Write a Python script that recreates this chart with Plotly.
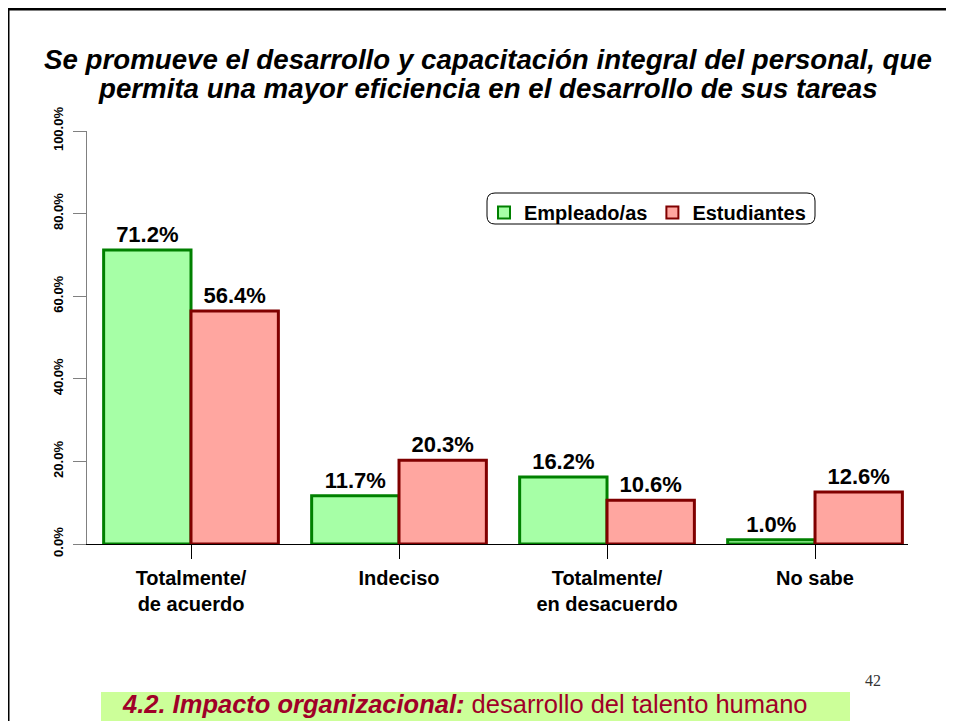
import plotly.graph_objects as go

categories = ["Totalmente/<br>de acuerdo", "Indeciso", "Totalmente/<br>en desacuerdo", "No sabe"]
empleados = [71.2, 11.7, 16.2, 1.0]
estudiantes = [56.4, 20.3, 10.6, 12.6]
series_names = ["Empleado/as", "Estudiantes"]
y_ticks = [0, 20, 40, 60, 80, 100]

OFF = 8                      # page body margin of the html page
W, H = 954 - OFF, 721 - OFF  # figure size so that it fits the window
L, R, T, B = 87, 908, 131, 544  # plot area in page pixels


def px(x):
    return (x - L) / (R - L)


def py(y):
    return (B - y) / (B - T)


FONT = "Liberation Sans, Arial, sans-serif"

fig = go.Figure()
fig.add_trace(go.Bar(
    name=series_names[0], x=categories, y=empleados,
    marker=dict(color="#A6FFA6", line=dict(color="#008000", width=3)),
    texttemplate="%{y:.1f}%", textposition="outside",
    textfont=dict(family=FONT, size=22, color="black", weight="bold"),
    cliponaxis=False,
))
fig.add_trace(go.Bar(
    name=series_names[1], x=categories, y=estudiantes,
    marker=dict(color="#FFA6A0", line=dict(color="#800000", width=3)),
    texttemplate="%{y:.1f}%", textposition="outside",
    textfont=dict(family=FONT, size=22, color="black", weight="bold"),
    cliponaxis=False,
))

fig.update_layout(
    width=W, height=H,
    margin=dict(l=L - OFF, r=W - (R - OFF), t=T - OFF, b=H - (B - OFF), pad=0),
    paper_bgcolor="white", plot_bgcolor="white",
    barmode="group", bargap=0.16, bargroupgap=0,
    font=dict(family=FONT, color="black"),
    showlegend=True,
    legend=dict(
        orientation="h", x=px(484), y=py(193), xanchor="left", yanchor="top",
        bgcolor="rgba(0,0,0,0)", borderwidth=0,
        font=dict(family=FONT, size=20, color="black", weight="bold"),
        itemsizing="constant", itemwidth=30, tracegroupgap=0,
    ),
    xaxis=dict(
        type="category", range=[-0.5, 3.447],
        showline=True, linecolor="black", linewidth=1,
        ticks="outside", ticklen=14, tickcolor="black", tickwidth=1,
        tickfont=dict(family=FONT, size=20, color="black", weight="bold"),
        ticklabelstandoff=2,
        showgrid=False, zeroline=False,
    ),
    yaxis=dict(
        range=[0, 100], tickvals=y_ticks, ticktext=[f"{v:.1f}%" for v in y_ticks],
        showline=True, linecolor="#808080", linewidth=1,
        ticks="outside", ticklen=13, tickcolor="#808080", tickwidth=1,
        tickangle=-90,
        tickfont=dict(family=FONT, size=13, color="black", weight="bold"),
        ticklabelstandoff=5,
        showgrid=False, zeroline=False,
    ),
    yaxis2=dict(
        range=[0, 100], tickvals=y_ticks, overlaying="y", side="left",
        ticks="inside", ticklen=12, tickcolor="#808080", tickwidth=1,
        showticklabels=False, showline=False, showgrid=False, zeroline=False,
    ),
)

# legend rounded box
x0, x1, y0, y1, r = px(487), px(815), py(193), py(224), 8
rx, ry = r / (R - L), r / (B - T)
path = (f"M {x0+rx},{y0} L {x1-rx},{y0} Q {x1},{y0} {x1},{y0-ry} "
        f"L {x1},{y1+ry} Q {x1},{y1} {x1-rx},{y1} L {x0+rx},{y1} "
        f"Q {x0},{y1} {x0},{y1+ry} L {x0},{y0-ry} Q {x0},{y0} {x0+rx},{y0} Z")
fig.add_shape(type="path", path=path, xref="paper", yref="paper",
              line=dict(color="black", width=1), fillcolor="white", layer="below")

# page border
fig.add_shape(type="rect", xref="paper", yref="paper",
              x0=px(8), x1=px(980), y0=py(9), y1=py(760),
              line=dict(color="black", width=3), fillcolor="rgba(0,0,0,0)")

# bottom banner
fig.add_shape(type="rect", xref="paper", yref="paper",
              x0=px(101), x1=px(850), y0=py(692), y1=py(740),
              line=dict(width=0), fillcolor="#CCFF99", layer="below")

fig.add_annotation(
    text="<b><i>4.2. Impacto organizacional:</i></b> desarrollo del talento humano",
    xref="paper", yref="paper", x=px(120), y=py(704), xanchor="left", yanchor="middle",
    showarrow=False, font=dict(family=FONT, size=25.5, color="#A00028"),
)

fig.add_annotation(
    text="42", xref="paper", yref="paper", x=px(873), y=py(680),
    xanchor="center", yanchor="middle", showarrow=False,
    font=dict(family="Liberation Serif, Times New Roman, serif", size=16, color="#333333"),
)

title_lines = ["Se promueve el desarrollo y capacitación integral del personal, que",
               "permita una mayor eficiencia en el desarrollo de sus tareas"]
for line, yy in zip(title_lines, [60, 88]):
    fig.add_annotation(
        text=f"<b><i>{line}</i></b>",
        xref="paper", yref="paper", x=px(488), y=py(yy), xanchor="center", yanchor="middle",
        showarrow=False, font=dict(family=FONT, size=27.7, color="black"),
    )

fig.write_html("out.html")
